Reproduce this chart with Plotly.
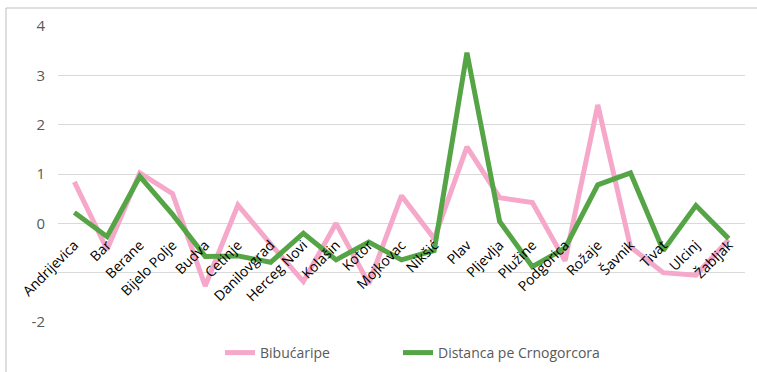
import plotly.graph_objects as go

# Municipalities on the category axis
municipalities = [
    "Andrijevica", "Bar", "Berane", "Bijelo Polje", "Budva", "Cetinje",
    "Danilovgrad", "Herceg Novi", "Kolašin", "Kotor", "Mojkovac", "Nikšić",
    "Plav", "Pljevlja", "Plužine", "Podgorica", "Rožaje", "Šavnik",
    "Tivat", "Ulcinj", "Žabljak",
]

bibucaripe = [
    0.84, -0.53, 1.02, 0.60, -1.27, 0.37,
    -0.42, -1.18, 0.00, -1.22, 0.56, -0.31,
    1.55, 0.52, 0.42, -0.76, 2.40, -0.48,
    -1.00, -1.05, -0.33,
]

distanca = [
    0.22, -0.27, 0.95, 0.18, -0.67, -0.66,
    -0.79, -0.20, -0.74, -0.38, -0.74, -0.55,
    3.46, 0.04, -0.88, -0.50, 0.78, 1.02,
    -0.55, 0.36, -0.31,
]

y_ticks = [-2, -1, 0, 1, 2, 3, 4]
y_tick_text = ["-2", "", "0", "1", "2", "3", "4"]

PINK = "#F5A8C9"
GREEN = "#55A445"
Y_MIN, Y_MAX = -2, 4

fig = go.Figure()
fig.add_trace(go.Scatter(
    x=municipalities, y=bibucaripe, mode="lines", name="Bibućaripe",
    line=dict(color=PINK, width=5), legend="legend",
))
fig.add_trace(go.Scatter(
    x=municipalities, y=distanca, mode="lines", name="Distanca pe Crnogorcora",
    line=dict(color=GREEN, width=5), legend="legend2",
))

# Outer chart border
W, H = 757, 372
L, R, T, B = 58, 12, 26, 50
pw, ph = W - L - R, H - T - B
def px_x(p):
    return (p - L) / pw
def px_y(p):
    return (H - B - p) / ph

fig.add_shape(
    type="rect", xref="paper", yref="paper",
    x0=px_x(6), x1=px_x(W + 5), y0=px_y(8), y1=px_y(H + 5),
    line=dict(color="#BFBFBF", width=1), fillcolor="rgba(0,0,0,0)", layer="below",
)

legend_style = dict(
    orientation="h", xanchor="left", yanchor="middle", y=px_y(353),
    font=dict(size=14, color="#595959"), itemwidth=30,
    bgcolor="rgba(0,0,0,0)",
)

fig.update_layout(
    width=W, height=H,
    margin=dict(l=L, r=R, t=T, b=B, autoexpand=False),
    paper_bgcolor="white", plot_bgcolor="white",
    font=dict(family="Open Sans", size=13, color="#595959"),
    showlegend=True,
    legend=dict(x=px_x(220), **legend_style),
    legend2=dict(x=px_x(398), **legend_style),
    xaxis=dict(
        type="category", range=[-0.5, len(municipalities) - 0.5],
        anchor="free", position=(0 - Y_MIN) / (Y_MAX - Y_MIN),
        showgrid=False, showline=False, zeroline=False, ticks="",
        tickangle=-45, tickfont=dict(color="black", size=14),
        ticklabelstandoff=10, automargin=False,
    ),
    yaxis=dict(
        range=[Y_MIN, Y_MAX], tickvals=y_ticks, ticktext=y_tick_text,
        showgrid=True, gridcolor="#D9D9D9", gridwidth=1,
        zeroline=False, showline=False, ticks="",
        tickfont=dict(size=15, color="#595959"),
        ticklabelstandoff=12, automargin=False,
    ),
)

fig.write_html("out.html")
